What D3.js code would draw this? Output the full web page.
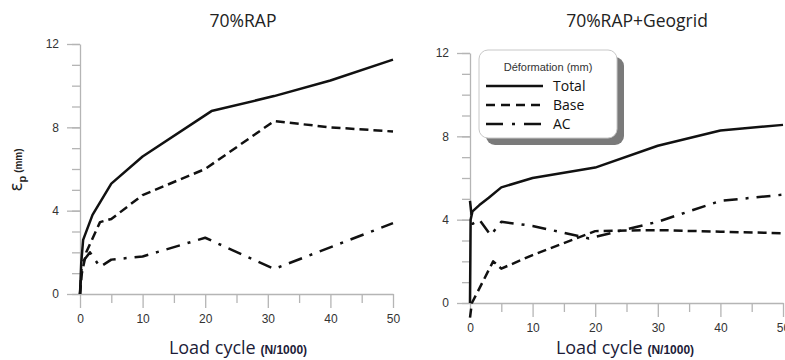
<!DOCTYPE html>
<html>
<head>
<meta charset="utf-8">
<script src="https://cdn.jsdelivr.net/npm/d3@7"></script>
<style>
  body { margin: 0; background: #fff; }
  svg { display: block; }
</style>
</head>
<body>
<div id="main"></div>
<script>
// load cycle (N/1000) and permanent deformation (mm)
const rapTotal = [[0, 0], [0.2, 1.5], [0.5, 2.6], [2, 3.8], [5, 5.3], [10, 6.6], [21, 8.78], [31, 9.5], [40, 10.25], [50, 11.25]];
const rapBase  = [[0, 0], [0.3, 1.0], [1, 2.0], [3.2, 3.45], [5, 3.6], [10, 4.75], [20, 6.0], [31, 8.3], [40, 8.0], [50, 7.8]];
const rapAC    = [[0, 0], [0.3, 1.5], [1.6, 2.0], [3.2, 1.3], [5, 1.65], [10, 1.8], [20, 2.7], [31, 1.2], [50, 3.4]];

const geoTotal = [[0, 0], [0.1, 4.0], [0.4, 4.4], [1.5, 4.7], [3, 5.05], [5, 5.55], [10, 6.0], [20, 6.5], [30, 7.55], [40, 8.28], [50, 8.55]];
const geoBase  = [[0, -0.7], [0.3, 0], [1.5, 0.7], [3.7, 2.0], [5, 1.65], [10, 2.3], [20, 3.45], [30, 3.5], [40, 3.42], [50, 3.35]];
const geoAC    = [[0, 4.9], [0.4, 3.8], [1.5, 4.0], [3.3, 3.25], [5, 3.9], [10, 3.7], [19, 3.1], [30, 3.9], [40, 4.9], [50, 5.2]];

const yMajor = [0, 4, 8, 12];
const yMinor = d3.range(0, 13, 1);
const xMajor = [0, 10, 20, 30, 40, 50];
const xMinor = [5, 15, 25, 35, 45];
const seriesNames = ['Total', 'Base', 'AC'];

const styles = {
  Total: null,
  Base: '9,5',
  AC: '14,8,3,8'
};

class Panel {
  constructor(svg, config) {
    this.svg = svg;
    this.config = config;
    this.g = svg.append('g');
    this.xScale = d3.scaleLinear().domain([0, 50]).range([config.x0, config.x1]);
    this.yScale = d3.scaleLinear().domain([0, 12]).range([config.y0, config.y1]);
  }

  renderAxes() {
    const c = this.config;

    // minor ticks first, then majors with labels
    this.g.append('g')
      .attr('transform', `translate(${c.x0},0)`)
      .call(d3.axisLeft(this.yScale).tickValues(yMinor).tickSize(8).tickFormat(''))
      .call(a => a.select('.domain').remove());

    this.g.append('g')
      .attr('transform', `translate(0,${c.y0})`)
      .call(d3.axisBottom(this.xScale).tickValues(xMinor).tickSize(9).tickFormat(''))
      .call(a => a.select('.domain').remove());

    this.g.append('g')
      .attr('transform', `translate(${c.x0},0)`)
      .call(d3.axisLeft(this.yScale).tickValues(yMajor).tickSize(13).tickSizeOuter(0).tickPadding(8));

    this.g.append('g')
      .attr('transform', `translate(0,${c.y0})`)
      .call(d3.axisBottom(this.xScale).tickValues(xMajor).tickSize(14).tickSizeOuter(0).tickPadding(6));

    this.g.selectAll('.tick line, .domain').attr('stroke', '#b5b5b5').attr('stroke-width', 1.3);
    this.g.selectAll('.tick text')
      .attr('fill', '#333')
      .style('font-family', 'Liberation Sans, Arial, sans-serif')
      .style('font-size', '12px');

    this.svg.append('text')
      .attr('x', c.titleX).attr('y', 27)
      .attr('text-anchor', 'middle')
      .style('font-family', 'Open Sans, sans-serif')
      .style('font-size', '17.5px')
      .attr('fill', '#222')
      .text(c.title);

    const lab = this.svg.append('text')
      .attr('x', c.labelX).attr('y', 354)
      .attr('text-anchor', 'middle')
      .attr('fill', '#1c1c38')
      .style('font-family', 'Open Sans, sans-serif');
    lab.append('tspan').style('font-size', '18px').text('Load cycle ');
    lab.append('tspan').style('font-size', '12px').style('font-weight', 'bold')
      .style('font-family', 'Liberation Sans, Arial, sans-serif').text('(N/1000)');
  }

  renderLines(data) {
    const line = d3.line()
      .x(d => this.xScale(d[0]))
      .y(d => this.yScale(d[1]));

    seriesNames.forEach((name, i) => {
      this.g.append('path')
        .datum(data[i])
        .attr('d', line)
        .attr('fill', 'none')
        .attr('stroke', '#111')
        .attr('stroke-width', 2.5)
        .attr('stroke-linejoin', 'round')
        .attr('stroke-dasharray', styles[name]);
    });
  }
}

function renderLegend(svg) {
  const g = svg.append('g').attr('transform', 'translate(479,50)');
  g.append('rect').attr('x', 7).attr('y', 7).attr('width', 138).attr('height', 88)
    .attr('rx', 9).attr('fill', '#7a7a7a');
  g.append('rect').attr('width', 138).attr('height', 88)
    .attr('rx', 9).attr('fill', '#fff').attr('stroke', '#c8c8c8');
  g.append('text').attr('x', 69).attr('y', 21).attr('text-anchor', 'middle')
    .style('font-family', 'Liberation Sans, Arial, sans-serif').style('font-size', '11px')
    .attr('fill', '#333').text('Déformation (mm)');

  seriesNames.forEach((name, i) => {
    const y = 36 + i * 19;
    g.append('line').attr('x1', 7).attr('x2', 64).attr('y1', y).attr('y2', y)
      .attr('stroke', '#111').attr('stroke-width', 2.4)
      .attr('stroke-dasharray', name === 'Base' ? '9,6' : (name === 'AC' ? '17,9,3,9' : null));
    g.append('text').attr('x', 74).attr('y', y + 5)
      .style('font-family', 'Open Sans, sans-serif').style('font-size', '14px')
      .attr('fill', '#111').text(name);
  });
}

function main() {
  const svg = d3.select('#main').append('svg').attr('width', 785).attr('height', 360);

  const left = new Panel(svg, {x0: 80, x1: 393, y0: 294, y1: 44, title: '70%RAP', titleX: 243, labelX: 238});
  left.renderAxes();
  left.renderLines([rapTotal, rapBase, rapAC]);

  const right = new Panel(svg, {x0: 470, x1: 783, y0: 303, y1: 53, title: '70%RAP+Geogrid', titleX: 637, labelX: 625});
  right.renderAxes();
  right.renderLines([geoTotal, geoBase, geoAC]);

  // y axis label
  const yl = svg.append('text')
    .attr('transform', 'translate(22,170) rotate(-90)')
    .attr('text-anchor', 'middle')
    .attr('fill', '#222');
  yl.append('tspan').style('font-family', 'DejaVu Sans, sans-serif').style('font-size', '17px').text('ε');
  yl.append('tspan').attr('dy', 4).style('font-family', 'Liberation Sans, Arial, sans-serif')
    .style('font-size', '11px').style('font-weight', 'bold').text('p');
  yl.append('tspan').attr('dy', -4).style('font-family', 'Liberation Sans, Arial, sans-serif')
    .style('font-size', '10px').style('font-weight', 'bold').text(' (mm)');

  renderLegend(svg);
}

main();
</script>
</body>
</html>
